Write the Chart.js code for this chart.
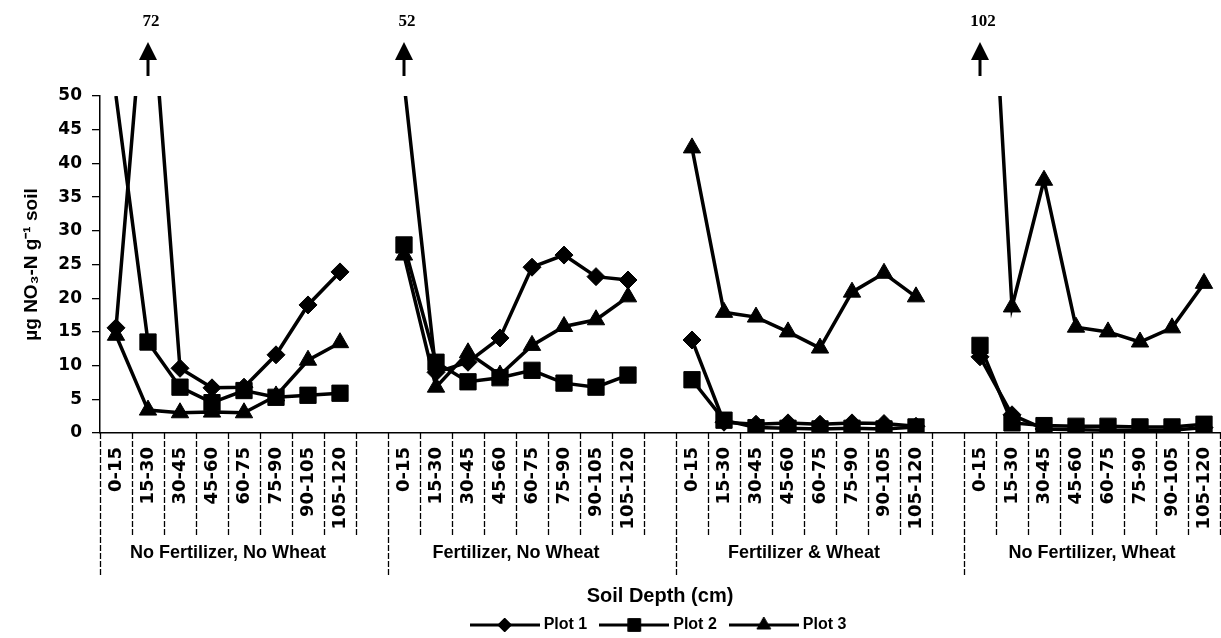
<!DOCTYPE html>
<html>
<head>
<meta charset="utf-8">
<script src="https://cdn.jsdelivr.net/npm/chart.js@4.4.1/dist/chart.umd.min.js"></script>
<style>
  html, body { margin: 0; padding: 0; background: #fff; }
  canvas { display: block; }
</style>
</head>
<body>
<canvas id="chart" width="1221" height="638"></canvas>
<script>
const depths = ["0-15", "15-30", "30-45", "45-60", "60-75", "75-90", "90-105", "105-120"];
const treatments = ["No Fertilizer, No Wheat", "Fertilizer, No Wheat", "Fertilizer & Wheat", "No Fertilizer, Wheat"];

// one row per treatment, values in depth order (ug NO3-N per g soil)
const plot1 = [
  [15.6, 72, 9.6, 6.7, 6.8, 11.6, 19.0, 23.9],
  [52, 9.0, 10.5, 14.1, 24.6, 26.4, 23.2, 22.7],
  [13.8, 1.6, 1.3, 1.5, 1.3, 1.5, 1.4, 1.0],
  [11.3, 2.7, 0.6, 0.5, 0.4, 0.4, 0.4, 0.8]
];
const plot2 = [
  [50, 13.5, 6.8, 4.5, 6.3, 5.3, 5.6, 5.9],
  [27.9, 10.5, 7.6, 8.2, 9.3, 7.4, 6.8, 8.6],
  [7.9, 1.9, 0.8, 0.7, 0.6, 0.7, 0.6, 0.9],
  [13.0, 1.5, 1.1, 1.0, 1.0, 0.9, 0.9, 1.3]
];
const plot3 = [
  [14.5, 3.4, 3.0, 3.1, 3.0, 5.5, 10.8, 13.4],
  [26.4, 6.8, 11.9, 8.6, 13.0, 15.8, 16.8, 20.2],
  [42.3, 17.9, 17.2, 15.0, 12.6, 20.9, 23.7, 20.2],
  [102, 18.7, 37.5, 15.7, 15.0, 13.5, 15.6, 22.2]
];
const yTicks = [0, 5, 10, 15, 20, 25, 30, 35, 40, 45, 50];
const yMax = 50;

// depths of each treatment side by side, one empty slot between treatments
const labels = [];
treatments.forEach((t, g) => {
  if (g > 0) labels.push("");
  depths.forEach(d => labels.push(d));
});
const spread = rows => rows.flatMap((row, g) => (g > 0 ? [null, ...row] : row));

const black = "#000";
const textFont = "Liberation Sans";

// small line+marker pictures for the legend
function swatch(style, radius) {
  const c = document.createElement("canvas");
  c.width = 70; c.height = 22;
  const g = c.getContext("2d");
  g.strokeStyle = black; g.fillStyle = black; g.lineWidth = 3;
  g.beginPath(); g.moveTo(0, 11); g.lineTo(70, 11); g.stroke();
  g.lineWidth = 1;
  Chart.helpers.drawPoint(g, { pointStyle: style, radius: radius, borderWidth: 1 }, 35, 11);
  return c;
}

const overflowArrows = {
  id: "overflowArrows",
  afterDatasetsDraw(chart) {
    const { ctx, scales: { x, y } } = chart;
    ctx.save();
    ctx.fillStyle = black;
    ctx.strokeStyle = black;
    ctx.lineWidth = 3;
    ctx.font = "bold 17px 'Liberation Serif'";
    ctx.textAlign = "center";
    ctx.textBaseline = "middle";
    chart.data.datasets.forEach(ds => {
      ds.data.forEach((v, i) => {
        if (v == null || v <= yMax) return;
        const px = x.getPixelForValue(i);
        const tip = y.top - 54;
        ctx.beginPath();
        ctx.moveTo(px, tip + 16);
        ctx.lineTo(px, tip + 34);
        ctx.stroke();
        ctx.beginPath();
        ctx.moveTo(px, tip);
        ctx.lineTo(px + 9, tip + 18);
        ctx.lineTo(px - 9, tip + 18);
        ctx.closePath();
        ctx.fill();
        ctx.fillText(String(v), px + 3, y.top - 74);
      });
    });
    ctx.restore();
  }
};

const groupAxis = {
  id: "groupAxis",
  afterDraw(chart) {
    const { ctx, scales: { x } } = chart;
    const top = x.top;
    ctx.save();
    ctx.strokeStyle = black;
    ctx.lineWidth = 1.3;
    ctx.setLineDash([6, 2]);
    treatments.forEach((t, g) => {
      const start = g * (depths.length + 1);
      for (let i = 0; i <= depths.length; i++) {
        const px = Math.round(x.getPixelForValue(start + i - 0.5)) + 0.5;
        ctx.beginPath();
        ctx.moveTo(px, top);
        ctx.lineTo(px, top + (i === 0 ? 142 : 102));
        ctx.stroke();
      }
    });
    ctx.setLineDash([]);
    ctx.fillStyle = black;
    ctx.font = "bold 18px '" + textFont + "'";
    ctx.textAlign = "center";
    ctx.textBaseline = "middle";
    treatments.forEach((t, g) => {
      const start = g * (depths.length + 1);
      ctx.fillText(t, x.getPixelForValue(start + 3.5), top + 120);
    });
    ctx.restore();
  }
};

const lineStyle = {
  borderColor: black,
  backgroundColor: black,
  pointBorderColor: black,
  pointBackgroundColor: black,
  borderWidth: 3.5,
  pointBorderWidth: 1,
  tension: 0,
  spanGaps: false
};
const hideOver = r => ctx => (ctx.raw != null && ctx.raw >= yMax ? 0 : r);

const swatches = [swatch("rectRot", 7), swatch("rect", 9), swatch("triangle", 8)];

new Chart(document.getElementById("chart"), {
  type: "line",
  data: {
    labels: labels,
    datasets: [
      { label: "Plot 1", data: spread(plot1), pointStyle: "rectRot", pointRadius: hideOver(9), ...lineStyle },
      { label: "Plot 2", data: spread(plot2), pointStyle: "rect", pointRadius: hideOver(11.5), ...lineStyle },
      { label: "Plot 3", data: spread(plot3), pointStyle: "triangle", pointRadius: hideOver(10), ...lineStyle }
    ]
  },
  options: {
    responsive: false,
    animation: false,
    events: [],
    layout: { autoPadding: false, padding: { top: 96, right: 1, bottom: -5, left: 0 } },
    scales: {
      x: {
        type: "category",
        offset: true,
        ticks: {
          autoSkip: false, minRotation: 90, maxRotation: 90, padding: 14, color: black,
          font: { family: "DejaVu Sans", weight: "bold", size: 18 }
        },
        grid: { display: false, drawTicks: false },
        border: { display: true, color: black, width: 1.5 },
        title: {
          display: true,
          text: "Soil Depth (cm)",
          color: black,
          font: { family: textFont, weight: "bold", size: 20 },
          padding: { top: 0, bottom: -7 }
        },
        afterFit: s => { s.height = 168; s.paddingLeft = 0; s.paddingRight = 0; }
      },
      y: {
        min: 0,
        max: yMax,
        afterBuildTicks: s => { s.ticks = yTicks.map(v => ({ value: v })); },
        ticks: { color: black, font: { family: "DejaVu Sans", weight: "bold", size: 17 }, padding: 10 },
        grid: { drawOnChartArea: false, drawTicks: true, tickLength: 8, color: black, lineWidth: 1.3 },
        border: { display: true, color: black, width: 1.5 },
        title: {
          display: true,
          text: "µg NO₃-N g⁻¹ soil",
          color: black,
          font: { family: textFont, weight: "bold", size: 19 },
          padding: { top: 20, bottom: 0 }
        },
        afterFit: s => { s.width = 100; }
      }
    },
    plugins: {
      tooltip: { enabled: false },
      legend: {
        position: "bottom",
        fullSize: false,
        labels: {
          usePointStyle: true,
          pointStyleWidth: 62,
          padding: 16,
          color: black,
          font: { family: textFont, weight: "bold", size: 16 },
          generateLabels: chart => Chart.defaults.plugins.legend.labels.generateLabels(chart)
            .map((item, i) => ({ ...item, pointStyle: swatches[i] }))
        }
      }
    }
  },
  plugins: [overflowArrows, groupAxis]
});
</script>
</body>
</html>
